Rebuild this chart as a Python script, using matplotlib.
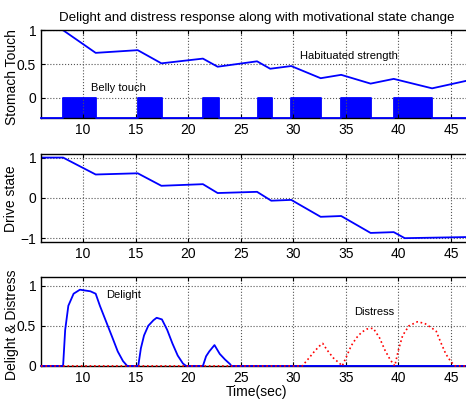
import matplotlib
matplotlib.use('Agg')
import matplotlib.pyplot as plt
import numpy as np

plt.rcParams['font.family'] = ['Liberation Sans', 'DejaVu Sans']

# habituated strength of the stomach touch (top panel)
hab_t = [8.1, 11.2, 15.2, 17.45, 21.4, 22.8, 26.55, 27.8, 29.8, 32.6, 34.55, 37.35, 39.55, 43.2, 47.0]
hab_v = [1.0, 0.665, 0.705, 0.51, 0.58, 0.46, 0.54, 0.43, 0.47, 0.29, 0.34, 0.21, 0.28, 0.14, 0.27]

# belly touch episodes (start, end)
touch_start = [8.1, 15.2, 21.4, 26.6, 29.8, 34.5, 39.55]
touch_end = [11.2, 17.5, 22.9, 28.0, 32.6, 37.4, 43.2]

# drive state (middle panel)
drive_t = [6.0, 8.1, 11.2, 15.2, 17.45, 21.4, 22.8, 26.55, 27.9, 29.8, 32.6, 34.55, 37.35, 39.55, 40.6, 47.0]
drive_v = [1.0, 1.0, 0.58, 0.61, 0.30, 0.34, 0.12, 0.15, -0.07, -0.05, -0.47, -0.45, -0.87, -0.85, -1.0, -0.97]

# delight bumps
delight_t = [6.0, 8.1, 8.3, 8.6, 9.1, 9.7, 10.7, 11.2, 11.6, 12.2, 12.8, 13.3, 13.8, 14.2,
             15.25, 15.5, 15.8, 16.2, 16.7, 17.0, 17.5, 18.0, 18.5, 19.0, 19.5, 19.8,
             21.4, 21.7, 22.0, 22.5, 23.0, 23.5, 24.0, 24.1, 47.0]
delight_v = [0, 0, 0.45, 0.75, 0.9, 0.95, 0.93, 0.9, 0.75, 0.55, 0.35, 0.18, 0.06, 0,
             0, 0.22, 0.38, 0.5, 0.57, 0.6, 0.58, 0.45, 0.28, 0.13, 0.03, 0,
             0, 0.12, 0.18, 0.26, 0.15, 0.08, 0.02, 0, 0]

# distress bumps
distress_t = [6.0, 30.85, 31.5, 32.0, 32.5, 32.8, 33.2, 33.8, 34.5, 34.65,
              35.0, 35.5, 36.0, 36.5, 37.0, 37.6, 38.2, 38.7, 39.2, 39.65,
              40.0, 40.4, 41.0, 41.8, 42.5, 43.2, 43.6, 44.0, 44.5, 45.0, 45.4, 47.0]
distress_v = [0, 0, 0.1, 0.18, 0.25, 0.28, 0.2, 0.1, 0.02, 0,
              0.1, 0.25, 0.35, 0.42, 0.46, 0.47, 0.35, 0.2, 0.08, 0,
              0.2, 0.38, 0.5, 0.55, 0.53, 0.47, 0.43, 0.3, 0.15, 0.05, 0, 0]

blue = '#0000ff'
red = '#ff0000'

fig = plt.figure(figsize=(4.66, 4.03), dpi=100)
W = 0.925
ax1 = fig.add_axes([0.088, 0.707, W, 0.218])
ax2 = fig.add_axes([0.088, 0.399, W, 0.218])
ax3 = fig.add_axes([0.088, 0.092, W, 0.221])


def style(ax):
    ax.set_xlim(6, 47)
    ax.set_xticks([10, 15, 20, 25, 30, 35, 40, 45])
    ax.grid(True, linestyle=':', color='#555555', linewidth=0.8)
    ax.tick_params(direction='in', top=True, right=True, labelsize=10, length=3)
    for s in ax.spines.values():
        s.set_linewidth(1.0)


# top panel
ax1.plot(hab_t, hab_v, color=blue, lw=1.3)
ax1.bar(touch_start, 0.3, width=np.array(touch_end) - np.array(touch_start),
        bottom=-0.3, align='edge', color=blue, linewidth=0)
# touch signal baseline (sits on the lower edge between touches)
step_t = [6.0] + [v for a, b in zip(touch_start, touch_end) for v in (a, a, b, b)] + [47.0]
step_v = [-0.3] + [v for _ in touch_start for v in (-0.3, 0, 0, -0.3)] + [-0.3]
ax1.plot(step_t, step_v, color=blue, lw=1.3, clip_on=False, zorder=3)
ax1.set_ylim(-0.3, 1)
ax1.set_yticks([0, 0.5, 1])
ax1.set_yticklabels(['0', '0.5', '1'])
style(ax1)
ax1.text(30.6, 0.62, 'Habituated strength', fontsize=8, va='center')
ax1.text(10.8, 0.14, 'Belly touch', fontsize=8, va='center')
ax1.set_ylabel('Stomach Touch', fontsize=10)
ax1.yaxis.set_label_coords(-0.05, 0.47)
ax1.set_title('Delight and distress response along with motivational state change', fontsize=9.6, pad=7)

# middle panel
ax2.plot(drive_t, drive_v, color=blue, lw=1.3)
ax2.set_ylim(-1.1, 1.08)
ax2.set_yticks([-1, 0, 1])
style(ax2)
ax2.set_ylabel('Drive state', fontsize=10)
ax2.yaxis.set_label_coords(-0.054, 0.5)

# bottom panel
ax3.plot(delight_t, delight_v, color=blue, lw=1.3, clip_on=False, zorder=3)
ax3.plot(distress_t, distress_v, color=red, lw=1.2, linestyle=':', clip_on=False, zorder=3)
ax3.set_ylim(0, 1.11)
ax3.set_yticks([0, 0.5, 1])
ax3.set_yticklabels(['0', '0.5', '1'])
style(ax3)
ax3.text(12.2, 0.88, 'Delight', fontsize=8, va='center')
ax3.text(35.8, 0.67, 'Distress', fontsize=8, va='center')
ax3.set_ylabel('Delight & Distress', fontsize=10)
ax3.yaxis.set_label_coords(-0.052, 0.46)
ax3.set_xlabel('Time(sec)', fontsize=10, labelpad=0)

fig.savefig('out.png', dpi=100)
